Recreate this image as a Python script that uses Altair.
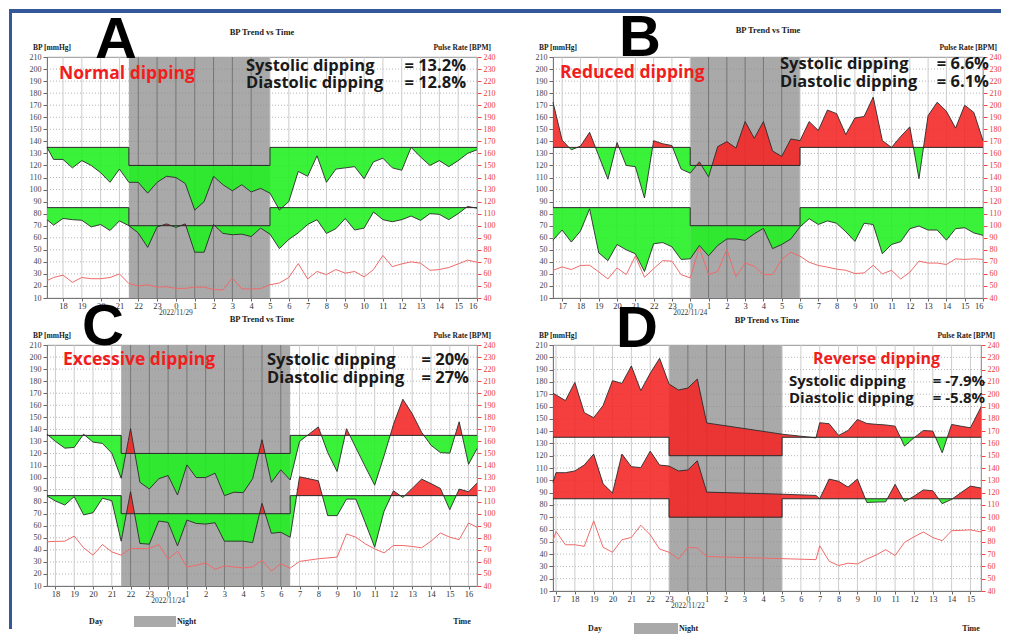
import math
import altair as alt
import pandas as pd

# ---------------- data (time in hours; values > 24 belong to the next day) ----------------
A_time = [17.15, 17.5, 18.0, 18.5, 19.0, 19.5, 20.0, 20.5, 21.0, 21.5,
          22.0, 22.5, 23.0, 23.5, 24.0, 24.5, 25.0, 25.5, 26.0, 26.5,
          27.0, 27.5, 28.0, 28.5, 29.0, 29.5, 30.0, 30.5, 31.0, 31.5,
          32.0, 32.5, 33.0, 33.5, 34.0, 34.5, 35.0, 35.5, 36.0, 36.5,
          37.0, 37.5, 38.0, 38.5, 39.0, 39.5, 40.0]
A_sys = [135, 125, 125, 118, 124, 120, 114, 106, 117, 106,
         106, 97, 106, 111, 110, 105, 83, 90, 111, 104,
         99, 104, 98, 101, 97, 83, 90, 115, 111, 128,
         106, 117, 118, 119, 109, 123, 126, 118, 116, 135,
         127, 120, 124, 119, 124, 130, 133]
A_dia = [75, 70.5, 76, 75, 74.5, 69, 71, 66, 74, 70,
         64, 52, 69, 71.5, 68.6, 71.5, 48, 48, 71, 63.6,
         62.5, 63, 61, 68, 63, 51, 58.6, 64, 71, 75,
         63.6, 67.5, 76, 66.4, 68, 81.4, 75, 73.3, 75, 78,
         74.4, 80, 79.4, 75, 80, 86, 84.5]
A_pulse = [54.4, 57, 59, 53, 57, 56, 56, 57, 60, 52,
           50, 51, 49, 49.4, 48, 48, 49, 49, 47, 46.7,
           56.7, 47.5, 47.5, 47.8, 51, 52.5, 57, 68.6, 55.8, 62,
           59.4, 63.6, 60.6, 62, 57.5, 63.6, 75.3, 66, 68.3, 70,
           68.9, 63, 63.6, 65.3, 68.3, 71.4, 69.7]

B_time = [16.5, 17.0, 17.5, 18.0, 18.5, 19.0, 19.5, 20.0, 20.5, 21.0,
          21.5, 22.0, 22.5, 23.0, 23.5, 24.0, 24.5, 25.0, 25.5, 26.0,
          26.5, 27.0, 27.5, 28.0, 28.5, 29.0, 29.5, 30.0, 30.5, 31.0,
          31.5, 32.0, 32.5, 33.0, 33.5, 34.0, 34.5, 35.0, 35.5, 36.0,
          36.5, 37.0, 37.5, 38.0, 38.5, 39.0, 39.5, 40.0]
B_sys = [172.5, 141, 133, 136, 147.5, 128, 108.6, 139, 120, 119,
         93, 140.5, 138, 136.5, 117, 113.6, 123, 110.5, 135.6, 139.8,
         134.4, 156.4, 142.5, 156.4, 132, 127.5, 142, 140.6, 156.4, 149,
         166, 163, 145.6, 159.4, 160.6, 176.7, 140.6, 135, 144, 152,
         109, 161.4, 172.5, 165, 151, 170, 164, 140.6]
B_dia = [58, 66.4, 56.4, 65.5, 84, 47.5, 41, 54.4, 50, 46.7,
         32, 55, 56, 52.5, 42, 42.5, 53.6, 45, 53.6, 59,
         59, 57.8, 63.3, 67.8, 51, 54.4, 59, 69, 75.8, 71,
         74, 72, 65, 57, 72, 71, 46.7, 54.4, 56.7, 67.5,
         69.7, 66.4, 66.4, 58, 67.5, 68.3, 64, 62]
B_pulse = [63, 65.8, 63.6, 67, 67.2, 61.7, 55.8, 65, 59.4, 74.7,
           57.2, 64.4, 71, 70.6, 59.4, 56.7, 82, 59.4, 62, 80.3,
           57.5, 69, 66.4, 59.4, 59.4, 72, 78, 74.7, 69.7, 67,
           65.6, 64, 63, 60.3, 60.8, 67.2, 60, 63, 55.8, 61.4,
           70.6, 69, 69, 67.8, 72.5, 72, 72.5, 72]

C_time = [17.55, 18.0, 18.5, 19.0, 19.5, 20.0, 20.5, 21.0, 21.5, 22.0,
          22.5, 23.0, 23.5, 24.0, 24.5, 25.0, 25.5, 26.0, 26.5, 27.0,
          27.5, 28.0, 28.5, 29.0, 29.5, 30.0, 30.5, 31.0, 31.5, 32.0,
          32.5, 33.0, 33.5, 34.0, 34.5, 35.0, 35.5, 36.0, 36.5, 37.0,
          37.5, 38.0, 38.5, 39.0, 39.5, 40.0, 40.45]
C_sys = [136, 130, 124.4, 125, 136, 129.4, 128.3, 120.3, 99.4, 140.5,
         96, 90.5, 99, 101.7, 85.5, 110.5, 100, 100, 103.6, 85,
         87.8, 87.5, 99, 131.4, 96, 106.4, 98, 130, 136, 142,
         120.7, 105, 140.5, 124.7, 109, 93.7, 118, 144, 165, 153,
         137.6, 126.8, 120.7, 120.2, 146.3, 111, 124]
C_dia = [84.7, 80.5, 77.2, 84.2, 69, 70.8, 82.8, 80.8, 47.2, 88.3,
         45.3, 44.7, 63.9, 62.8, 43.3, 64.7, 61.9, 61.4, 62.5, 47.2,
         47.2, 47.2, 46, 78.6, 53.7, 54.6, 50.5, 100.6, 99, 97.3,
         68.4, 68.4, 82.1, 82.1, 62.5, 42.2, 72, 89, 83.5, 91,
         98.7, 95, 91, 73.3, 90.4, 88.2, 95.4]
C_pulse = [76.7, 77, 77.2, 81.4, 71.7, 65.6, 74.4, 68.3, 65.6, 71.1,
           71.1, 71.1, 74.4, 62.2, 68.9, 55.8, 57.2, 59.2, 53.9, 56.7,
           55.8, 55, 55.8, 61.4, 52.5, 58.4, 54.8, 60.4, 61.5, 62.6,
           63.3, 64, 83.2, 80.5, 75, 70.8, 67.5, 73.6, 73.6, 72.8,
           71.7, 77.2, 84, 80.5, 78.5, 92.3, 88.7]

D_time = [16.84, 17.0, 17.5, 18.0, 18.5, 19.0, 19.5, 20.0, 20.5, 21.0,
          21.5, 22.0, 22.5, 23.0, 23.5, 24.0, 24.5, 25.0, 29.0, 30.8,
          31.0, 31.5, 32.0, 32.5, 33.0, 33.5, 34.0, 34.5, 35.0, 35.5,
          36.0, 36.5, 37.0, 37.5, 38.0, 38.5, 39.0, 39.56]
D_sys = [170.8, 169.4, 164.8, 179.6, 155, 150.9, 160.8, 181, 178.8, 193,
         172.9, 187, 199.2, 178.3, 173.4, 175, 182.3, 146.6, 137.5, 134.5,
         146.8, 146, 136.5, 140.5, 149.5, 146.2, 145.5, 145, 144, 127.8,
         134.5, 140.5, 140, 122.4, 145.4, 144, 142.7, 159.5]
D_dia = [98.2, 106.2, 106.2, 107.6, 112.4, 121.3, 97.1, 89.6, 121.3, 111.1,
         110.3, 123.7, 112.4, 111.6, 107.6, 108.4, 115.9, 90.4, 88.7, 87.7,
         85, 101, 99.2, 94.5, 101, 82, 82.3, 82.5, 96.7, 82.7,
         87, 92.2, 91.5, 81, 84.5, 90, 95.3, 93.7]
D_pulse = [80.9, 88.4, 77.6, 77.6, 76.3, 97, 75.5, 71.5, 81.7, 83.5,
           93.5, 85.7, 74.1, 71.5, 66, 75.5, 75, 68, 66.3, 65.5,
           76.8, 64.2, 60.7, 62.6, 62, 66, 69.3, 73.6, 68.8, 79.5,
           84, 88, 83.5, 80.9, 89, 89.3, 89.7, 88]

NIGHT = {"A": [21.5, 29.0], "B": [24.0, 30.0], "C": [21.5, 30.5], "D": [23.0, 29.0]}
DATES = {"A": "2022/11/29", "B": "2022/11/24", "C": "2022/11/24", "D": "2022/11/22"}
CATEGORY = {"A": "Normal dipping", "B": "Reduced dipping", "C": "Excessive dipping", "D": "Reverse dipping"}
SYS_PCT = {"A": "= 13.2%", "B": "= 6.6%", "C": "= 20%", "D": "= -7.9%"}
DIA_PCT = {"A": "= 12.8%", "B": "= 6.1%", "C": "= 27%", "D": "= -5.8%"}
SYS_THR = [135, 120]   # day, night
DIA_THR = [85, 70]
BP_TICKS = [10, 20, 30, 40, 50, 60, 70, 80, 90, 100, 110, 120, 130, 140, 150, 160, 170, 180, 190, 200, 210]
PULSE_TICKS = [40, 50, 60, 70, 80, 90, 100, 110, 120, 130, 140, 150, 160, 170, 180, 190, 200, 210, 220, 230, 240]

SERIES = {
    "A": (A_time, A_sys, A_dia, A_pulse),
    "B": (B_time, B_sys, B_dia, B_pulse),
    "C": (C_time, C_sys, C_dia, C_pulse),
    "D": (D_time, D_sys, D_dia, D_pulse),
}

# ---------------- layout / style ----------------
SIZE = {"A": (430, 241), "B": (430, 241), "C": (430, 241), "D": (428, 246)}
LAYOUT = {
    "A": dict(letter=(69, 1), title_y=-25, cat=(12, 17), cat_fs=17.5, stat_l=199, stat_r=419, stat_y=(9, 26),
              stat_fs=16.5, legend=None),
    "B": dict(letter=(87, -1), title_y=-27, cat=(7, 16), cat_fs=17.5, stat_l=227, stat_r=436, stat_y=(7, 25),
              stat_fs=16.5, legend=None),
    "C": dict(letter=(56, 0), title_y=-26, cat=(16, 15), cat_fs=17.5, stat_l=220, stat_r=422, stat_y=(15, 33),
              stat_fs=16.5, legend=dict(day=49, box=(87, 129), night=130, time=415, y=277)),
    "D": dict(letter=(84, 2), title_y=-25, cat=(260, 14), cat_fs=16, stat_l=236, stat_r=432, stat_y=(36, 53),
              stat_fs=15, legend=dict(day=42, box=(81, 125), night=126, time=418, y=284)),
}
GREEN = "#1ff01f"
RED = "#f42424"
GRAY = "#a9a9a9"
LINE = "#2a2a2a"
PULSE_C = "#f06a6a"
FRAME = "#34589a"
SERIF = "Liberation Serif"
SANS = "Open Sans"
ONE = pd.DataFrame({"k": [0]})


def fill_rows(times, vals, night, thr_day, thr_night, tag):
    segs = [(times[0], night[0], thr_day), (night[0], night[1], thr_night), (night[1], times[-1], thr_day)]
    rows, rid = [], 0
    for a, b, thr in segs:
        pts = [(t, v) for t, v in zip(times, vals) if a - 1e-6 <= t <= b + 1e-6]
        if len(pts) < 2:
            continue
        run = [pts[0]]
        up = pts[0][1] > thr
        for (t1, v1), (t2, v2) in zip(pts[:-1], pts[1:]):
            up2 = v2 > thr
            if up2 != up:
                tc = t1 + (thr - v1) * (t2 - t1) / (v2 - v1)
                run.append((tc, thr))
                rows += [dict(t=t, v=v, thr=thr, run=f"{tag}{rid}", side="above" if up else "below") for t, v in run]
                rid += 1
                run = [(tc, thr)]
                up = up2
            run.append((t2, v2))
        rows += [dict(t=t, v=v, thr=thr, run=f"{tag}{rid}", side="above" if up else "below") for t, v in run]
        rid += 1
    return rows


def step_rows(times, night, td, tn, tag):
    pts = [(times[0], td), (night[0], td), (night[0], tn), (night[1], tn), (night[1], td), (times[-1], td)]
    return [dict(t=t, thr=v, i=i, s=tag) for i, (t, v) in enumerate(pts)]


def txt(s, x, y, size, color="#1a1a1a", font=SANS, weight="bold", align="left", baseline="middle"):
    return alt.Chart(ONE).mark_text(text=s, fontSize=size, color=color, font=font, fontWeight=weight,
                                    align=align, baseline=baseline).encode(x=alt.value(x), y=alt.value(y))


def box(x0, x1, y0, y1, color):
    return alt.Chart(ONE).mark_rect(color=color).encode(
        x=alt.value(x0), x2=alt.value(x1), y=alt.value(y0), y2=alt.value(y1))


def panel(key):
    times, sys_v, dia_v, pulse_v = SERIES[key]
    night = NIGHT[key]
    w, h = SIZE[key]
    L = LAYOUT[key]
    hours = [hh for hh in range(math.ceil(times[0]), math.floor(times[-1]) + 1)]

    xsc = alt.Scale(domain=[times[0], times[-1]], nice=False, zero=False)
    xax = alt.Axis(title=None, values=hours, labelExpr="datum.value % 24", grid=False, tickSize=3,
                   tickColor="#666", domainColor="#777", labelFont=SERIF, labelFontSize=8.5,
                   labelColor="#333", labelPadding=0)
    ysc = alt.Scale(domain=[10, 210], nice=False, zero=False)
    yax = alt.Axis(title=None, values=BP_TICKS, grid=False, tickSize=4, tickColor="#666",
                   domainColor="#777", labelFont=SERIF, labelFontSize=8, labelColor="#444", labelPadding=2)
    psc = alt.Scale(domain=[40, 240], nice=False, zero=False)
    pax = alt.Axis(orient="right", title=None, values=PULSE_TICKS, grid=False, tickSize=4, tickColor="#e44",
                   domainColor="#999", labelFont=SERIF, labelFontSize=8, labelColor="#e8402e", labelPadding=2)

    X = lambda f: alt.X(f, scale=xsc, axis=xax)
    Y = lambda f: alt.Y(f, scale=ysc, axis=yax)

    rect = alt.Chart(pd.DataFrame({"n0": [night[0]], "n1": [night[1]]})).mark_rect(color=GRAY).encode(
        x=X("n0:Q"), x2="n1:Q")
    hgrid = alt.Chart(pd.DataFrame({"lvl": BP_TICKS[1:-1]})).mark_rule(
        color="#8a8a8a", strokeDash=[1, 2], strokeWidth=0.8, opacity=0.8).encode(y=Y("lvl:Q"))
    day_h = [hh for hh in hours if not (night[0] < hh < night[1])]
    night_h = [hh for hh in hours if night[0] < hh < night[1]]
    vday = alt.Chart(pd.DataFrame({"hr": day_h})).mark_rule(color="#c6c6c6", strokeWidth=0.9).encode(x=X("hr:Q"))
    vnight = alt.Chart(pd.DataFrame({"hr": night_h})).mark_rule(color="#707070", strokeWidth=0.9).encode(x=X("hr:Q"))

    fills = pd.DataFrame(fill_rows(times, sys_v, night, SYS_THR[0], SYS_THR[1], "s")
                         + fill_rows(times, dia_v, night, DIA_THR[0], DIA_THR[1], "d"))
    areas = alt.Chart(fills).mark_area(opacity=0.88).encode(
        x=X("t:Q"), y=Y("v:Q"), y2="thr:Q",
        color=alt.Color("side:N", scale=alt.Scale(domain=["above", "below"], range=[RED, GREEN]), legend=None),
        detail="run:N")
    steps = pd.DataFrame(step_rows(times, night, SYS_THR[0], SYS_THR[1], "s")
                         + step_rows(times, night, DIA_THR[0], DIA_THR[1], "d"))
    thr_line = alt.Chart(steps).mark_line(color=LINE, strokeWidth=1).encode(
        x=X("t:Q"), y=Y("thr:Q"), order="i:Q", detail="s:N")
    vals = pd.DataFrame({"t": times + times, "v": sys_v + dia_v, "s": ["sys"] * len(times) + ["dia"] * len(times)})
    val_line = alt.Chart(vals).mark_line(color=LINE, strokeWidth=0.9).encode(x=X("t:Q"), y=Y("v:Q"), detail="s:N")

    date = alt.Chart(pd.DataFrame({"t": [24.0], "lab": [DATES[key]]})).mark_text(
        fontSize=7.5, font=SERIF, color="#333", baseline="middle").encode(x=X("t:Q"), y=alt.value(h + 15), text="lab:N")

    texts = [
        txt(key, L["letter"][0], L["letter"][1], 58, color="#000", font="Liberation Sans", align="center",
            baseline="alphabetic"),
        txt("BP Trend vs Time", w / 2, L["title_y"], 8.5, color="#222", font=SERIF, align="center"),
        txt("BP [mmHg]", -14, -9, 7.5, color="#222", font=SERIF),
        txt("Pulse Rate  [BPM]", w + 14, -9, 7.5, color="#222", font=SERIF, align="right"),
        txt(CATEGORY[key], L["cat"][0], L["cat"][1], L["cat_fs"], color="#f01e1e"),
        txt("Systolic dipping", L["stat_l"], L["stat_y"][0], L["stat_fs"]),
        txt(SYS_PCT[key], L["stat_r"], L["stat_y"][0], L["stat_fs"], align="right"),
        txt("Diastolic dipping", L["stat_l"], L["stat_y"][1], L["stat_fs"]),
        txt(DIA_PCT[key], L["stat_r"], L["stat_y"][1], L["stat_fs"], align="right"),
    ]
    if key == "A":
        # slide frame: blue bar along the top and down the left side
        texts += [box(-38, 954, -48, -44, FRAME), box(-38, -35, -48, 572, FRAME)]
    lg = L["legend"]
    if lg:
        texts += [
            txt("Day", lg["day"], lg["y"], 8, color="#222", font=SERIF, align="center"),
            box(lg["box"][0], lg["box"][1], lg["y"] - 6, lg["y"] + 5, GRAY),
            txt("Night", lg["night"], lg["y"], 8, color="#222", font=SERIF),
            txt("Time", lg["time"], lg["y"], 8, color="#222", font=SERIF, align="center"),
        ]

    inner = alt.layer(rect, hgrid, vday, vnight, areas, thr_line, val_line, date, *texts)
    pulse = alt.Chart(pd.DataFrame({"t": times, "p": pulse_v})).mark_line(
        color=PULSE_C, strokeWidth=1).encode(x=X("t:Q"), y=alt.Y("p:Q", scale=psc, axis=pax))
    return alt.layer(inner, pulse).resolve_scale(y="independent").properties(width=w, height=h)


chart = alt.concat(
    panel("A"), panel("B"), panel("C"), panel("D"),
    columns=2, spacing={"row": 42, "column": 76}, bounds="flush", align="all",
).properties(
    padding={"left": 0, "top": 0, "right": 0, "bottom": 0}, background="white"
).configure_view(stroke="#777", strokeWidth=0.8)

chart.save("out.html", embed_options={"renderer": "svg", "actions": False})
